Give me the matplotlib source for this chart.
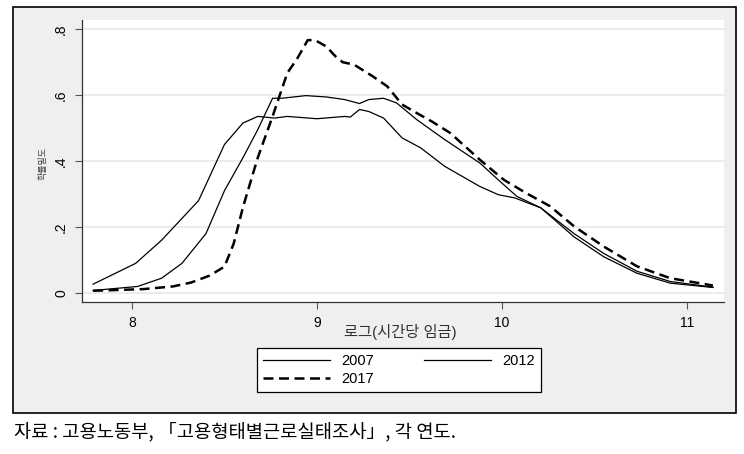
import matplotlib
matplotlib.use("Agg")
import matplotlib.pyplot as plt
from matplotlib.patches import Rectangle

plt.rcParams['font.family'] = ['Liberation Sans', 'Noto Sans CJK KR', 'DejaVu Sans']

# kernel density curves
x_2007 = [7.79, 8.02, 8.16, 8.36, 8.50, 8.60, 8.68, 8.77, 8.84, 9.00, 9.15, 9.18, 9.23, 9.28,
          9.36, 9.46, 9.56, 9.69, 9.88, 9.98, 10.07, 10.21, 10.39, 10.55, 10.73, 10.91, 11.14]
y_2007 = [0.027, 0.09, 0.16, 0.28, 0.45, 0.515, 0.535, 0.53, 0.535, 0.528, 0.535, 0.533, 0.556, 0.55,
          0.53, 0.47, 0.44, 0.384, 0.323, 0.298, 0.288, 0.258, 0.17, 0.11, 0.06, 0.03, 0.017]

x_2012 = [7.79, 8.03, 8.16, 8.27, 8.40, 8.50, 8.60, 8.68, 8.76, 8.81, 8.94, 9.05, 9.15, 9.23,
          9.28, 9.36, 9.43, 9.54, 9.69, 9.88, 9.98, 10.08, 10.21, 10.39, 10.55, 10.73, 10.91, 11.14]
y_2012 = [0.008, 0.02, 0.045, 0.09, 0.18, 0.31, 0.41, 0.495, 0.59, 0.59, 0.598, 0.594, 0.586, 0.574,
          0.586, 0.59, 0.576, 0.525, 0.465, 0.394, 0.343, 0.293, 0.258, 0.18, 0.12, 0.066, 0.035, 0.018]

x_2017 = [7.79, 8.06, 8.22, 8.32, 8.42, 8.50, 8.55, 8.60, 8.68, 8.76, 8.84, 8.89, 8.95, 8.99,
          9.05, 9.10, 9.14, 9.20, 9.30, 9.38, 9.46, 9.54, 9.62, 9.72, 9.88, 10.01, 10.13, 10.26,
          10.39, 10.55, 10.73, 10.91, 11.14]
y_2017 = [0.007, 0.012, 0.02, 0.032, 0.053, 0.08, 0.15, 0.26, 0.41, 0.535, 0.667, 0.707, 0.766, 0.766,
          0.747, 0.717, 0.699, 0.692, 0.657, 0.626, 0.571, 0.545, 0.52, 0.485, 0.404, 0.343, 0.303, 0.263,
          0.202, 0.141, 0.081, 0.045, 0.023]

xticks = [8, 9, 10, 11]
yticks = [0, 0.2, 0.4, 0.6, 0.8]
ytick_labels = ['0', '.2', '.4', '.6', '.8']

fig = plt.figure(figsize=(7.44, 4.54), dpi=100)
fig.patch.set_facecolor('white')

# grey outer panel with border (behind the axes)
W, H = 744, 454
panel = Rectangle((13 / W, 1 - 413 / H), (736 - 13) / W, (413 - 7) / H,
                  transform=fig.transFigure, facecolor='#efefef', edgecolor='black', lw=1.2,
                  zorder=-10)
fig.patches.append(panel)

ax = fig.add_axes([82 / W, 1 - 302 / H, (724 - 82) / W, (302 - 20) / H])
ax.set_facecolor('white')

l07, = ax.plot(x_2007, y_2007, color='black', lw=0.9, label='2007')
l12, = ax.plot(x_2012, y_2012, color='black', lw=0.9, label='2012')
l17, = ax.plot(x_2017, y_2017, color='black', lw=1.8, ls=(0, (4, 2.2)), label='2017')

ax.set_xlim(7.73, 11.2)
ax.set_ylim(-0.027, 0.827)
ax.set_xticks(xticks)
ax.set_yticks(yticks)
ax.set_yticklabels(ytick_labels, rotation=90, va='center')
ax.tick_params(direction='out', length=5, color='#555555', labelsize=10, pad=5)
ax.grid(axis='y', color='#e8e8e8', lw=1.2)
ax.set_axisbelow(True)
for s in ['top', 'right']:
    ax.spines[s].set_visible(False)
for s in ['left', 'bottom']:
    ax.spines[s].set_color('#333333')
    ax.spines[s].set_linewidth(0.9)

fig.text(400 / W, 1 - 332 / H, '로그(시간당 임금)', fontsize=11, color='#333333',
         ha='center', va='center')
fig.text(43 / W, 1 - 163 / H, '확률밀도', rotation=90, fontsize=6.5, color='#444444',
         ha='center', va='center')

# order so that rows read 2007 | 2012 / 2017
leg = fig.legend([l07, l17, l12], ['2007', '2017', '2012'], loc='center',
                 bbox_to_anchor=(399 / W, 1 - 370 / H), ncol=2, fontsize=10.5,
                 frameon=True, fancybox=False, edgecolor='black', handlelength=4.6,
                 columnspacing=3.4, borderpad=0.4, labelspacing=0.25, framealpha=1)
leg.get_frame().set_linewidth(0.9)

fig.text(14 / W, 1 - 432 / H, '자료 : 고용노동부, 「고용형태별근로실태조사」, 각 연도.',
         fontsize=13.5, family=['Noto Sans CJK KR', 'DejaVu Sans'], va='center', ha='left')

fig.savefig('out.png', dpi=100)
